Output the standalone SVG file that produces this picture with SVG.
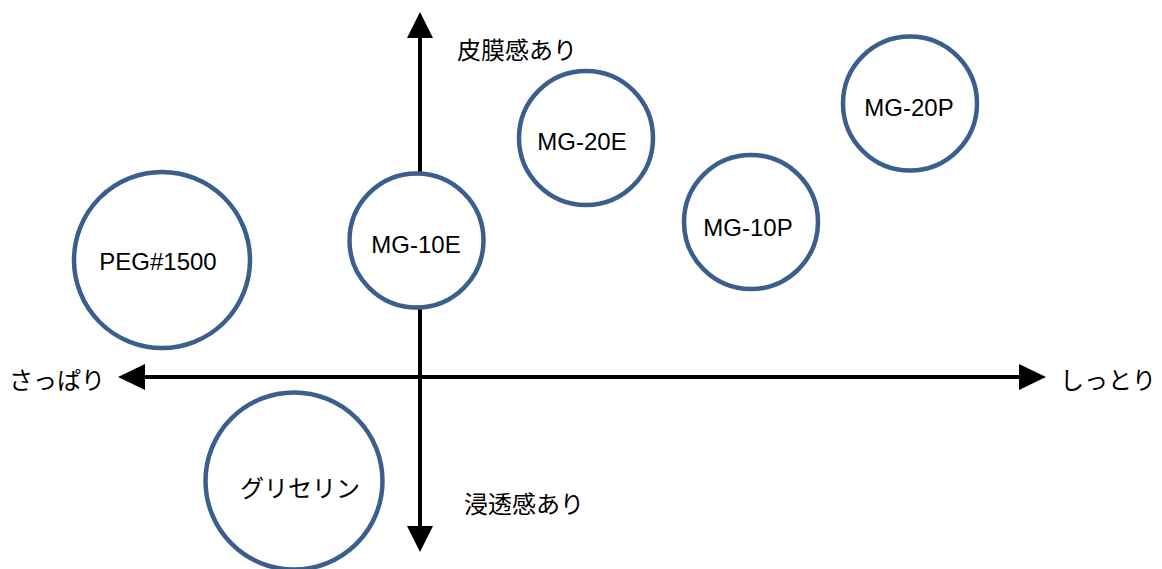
<svg xmlns="http://www.w3.org/2000/svg" width="1162" height="569" viewBox="0 0 1162 569">
<style>
.node circle{fill:#fff;stroke:#3A5F8E;stroke-width:4.5}
.lbl{font-family:"Liberation Sans",Arial,sans-serif;font-size:24px;fill:#000;text-anchor:middle}
.jp{font-family:"Noto Sans CJK JP","Liberation Sans",sans-serif;font-size:24px;fill:#000;dominant-baseline:central}
.axis{stroke:#000;stroke-width:4;fill:none}
</style>
<rect width="1162" height="569" fill="#fff"/>
<g id="connectors">
<line class="axis" x1="145" y1="377" x2="1020" y2="377"/>
<polygon points="118,377 145,364 145,390" fill="#000"/>
<polygon points="1046,377 1019,364 1019,390" fill="#000"/>
<line class="axis" x1="420" y1="38" x2="420" y2="527"/>
<polygon points="420,12 407,38 433,38" fill="#000"/>
<polygon points="420,552 407,526 433,526" fill="#000"/>
</g>
<g id="axis-labels">
<text class="jp" x="457" y="48">皮膜感あり</text>
<text class="jp" x="464" y="502">浸透感あり</text>
<text class="jp" x="9" y="378">さっぱり</text>
<text class="jp" x="1060" y="378">しっとり</text>
</g>
<g id="node-peg" class="node"><circle cx="162" cy="260" r="88"/><text class="lbl" x="158" y="269.5">PEG#1500</text></g>
<g id="node-mg10e" class="node"><circle cx="416.5" cy="240.5" r="67"/><text class="lbl" x="416" y="252.5">MG-10E</text></g>
<g id="node-mg20e" class="node"><circle cx="586" cy="138" r="67"/><text class="lbl" x="582" y="149.5">MG-20E</text></g>
<g id="node-mg10p" class="node"><circle cx="751" cy="222" r="67"/><text class="lbl" x="748" y="235.5">MG-10P</text></g>
<g id="node-mg20p" class="node"><circle cx="910" cy="103.5" r="67"/><text class="lbl" x="909" y="115.5">MG-20P</text></g>
<g id="node-glycerin" class="node"><circle cx="294" cy="481" r="88.5"/><text class="jp" x="300" y="486" text-anchor="middle">グリセリン</text></g>
</svg>
